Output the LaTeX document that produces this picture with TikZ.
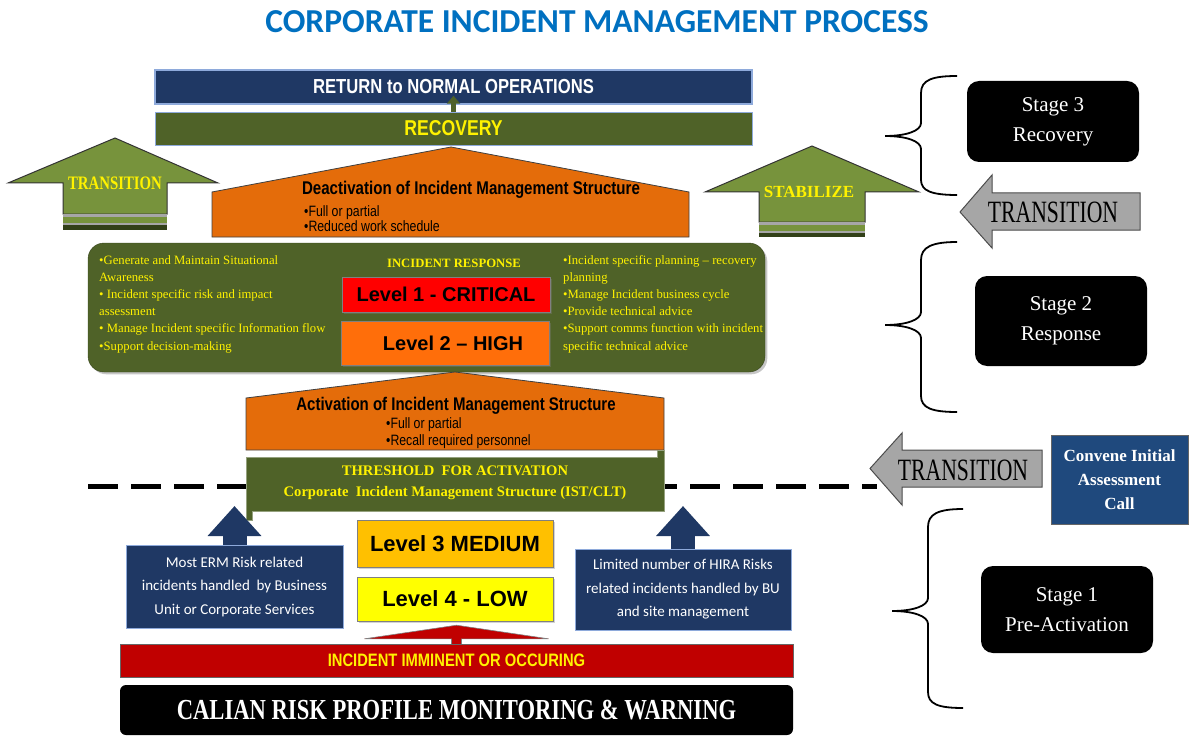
\documentclass[tikz,border=0pt]{standalone}
\usepackage{fontspec}
\setmainfont{Liberation Serif}
\newfontfamily\arialsans{Liberation Sans}
\newfontfamily\narrowsans[FakeStretch=0.82]{Liberation Sans}
\newfontfamily\condserif[FakeStretch=0.78]{Liberation Serif}
\newfontfamily\tallserif[FakeStretch=0.7]{Liberation Serif}
\newfontfamily\calibri{Carlito}
\usetikzlibrary{shapes,arrows.meta,positioning,shadows,calc}
\definecolor{titleblue}{RGB}{0,112,192}
\definecolor{navy}{RGB}{31,56,100}
\definecolor{navyedge}{RGB}{142,170,219}
\definecolor{olive}{RGB}{79,98,40}
\definecolor{arrowgreen}{RGB}{119,147,60}
\definecolor{olivedark}{RGB}{50,64,24}
\definecolor{roof}{RGB}{228,108,10}
\definecolor{critical}{RGB}{255,0,0}
\definecolor{high}{RGB}{255,110,10}
\definecolor{medium}{RGB}{255,192,0}
\definecolor{low}{RGB}{255,255,0}
\definecolor{alarm}{RGB}{192,0,0}
\definecolor{callblue}{RGB}{31,73,125}
\definecolor{greyarr}{RGB}{166,166,166}

\begin{document}
\begin{tikzpicture}[x=1pt, y=-1pt,
    navybox/.style={draw=navyedge, fill=navy, inner sep=0pt},
    levelbox/.style={draw=black!50, inner sep=0pt, drop shadow={opacity=0.35}},
    stagebox/.style={fill=black, rounded corners=12pt, minimum width=172pt, align=center, text=white, font=\fontsize{21}{30}\selectfont},
    roofstyle/.style={fill=roof, draw=black!75, line width=0.8pt},
    upgreen/.style={fill=arrowgreen, draw=black!80, line width=1pt},
    greyarrow/.style={fill=greyarr, draw=black!70, line width=1pt},
    bracestyle/.style={draw=black, line width=1.8pt},
    pointlist/.style={anchor=north west, align=left, inner sep=0pt}]
    % 事件管理流程图
    \useasboundingbox (0,0) rectangle (1193,738);
    \node[font=\calibri\bfseries\fontsize{33.5}{36}\selectfont, text=titleblue] (title) at (597,22) {CORPORATE INCIDENT MANAGEMENT PROCESS};

    \node[navybox, line width=1.5pt, minimum width=597pt, minimum height=34pt, text=white, font=\narrowsans\bfseries\fontsize{20.3}{22}\selectfont] (ret) at (453.5,87) {RETURN to NORMAL OPERATIONS};
    \node[draw=navyedge, fill=olive, minimum width=597pt, minimum height=33pt, inner sep=0pt, text=yellow, font=\narrowsans\bfseries\fontsize{21.5}{24}\selectfont] (rec) at (453.5,128.5) {RECOVERY};
    \draw[olive, line width=5pt, -{Triangle[width=13pt,length=8pt]}] (rec.north) -- ($(ret.south)+(0,-9)$);

    \filldraw[upgreen] (63,214) -- (63,183) -- (8,183) -- (115,138) -- (218,183) -- (167,183) -- (167,214) -- cycle;
    \fill[black!35] (63,214) rectangle (167,230);
    \fill[arrowgreen] (63,216.5) rectangle (167,222.5);
    \fill[olivedark] (63,224.5) rectangle (167,230);
    \node[text=yellow, font=\condserif\bfseries\fontsize{19}{21}\selectfont] (trleft) at (115,183) {TRANSITION};

    \filldraw[upgreen] (759,222) -- (759,192) -- (705,192) -- (812,146) -- (919,192) -- (865,192) -- (865,222) -- cycle;
    \fill[black!35] (759,222) rectangle (865,237);
    \fill[arrowgreen] (759,225) rectangle (865,230.5);
    \fill[olivedark] (759,233) rectangle (865,237);
    \node[text=yellow, font=\bfseries\fontsize{17}{19}\selectfont] (stab) at (809,192) {STABILIZE};

    \filldraw[roofstyle] (212,237) -- (212,192) -- (451,147) -- (689,192) -- (689,237) -- cycle;
    \node[font=\narrowsans\bfseries\fontsize{18.4}{20}\selectfont] (deact) at (471,190) {Deactivation of Incident Management Structure};
    \node[pointlist, font=\narrowsans\fontsize{15}{15}\selectfont] (deactpts) at (304,205) {•Full or partial\\•Reduced work schedule};

    \node[fill=olive, draw=olive!70!black, rounded corners=16pt, minimum width=677pt, minimum height=129pt, drop shadow={opacity=0.45}] (resp) at (426.5,307.5) {};
    \node[pointlist, text=yellow, font=\fontsize{12.7}{17.2}\selectfont] (leftpts) at (99,255) {•Generate and Maintain Situational\\Awareness\\• Incident specific risk and impact\\assessment\\• Manage Incident specific Information flow\\•Support decision-making};
    \node[text=yellow, font=\bfseries\fontsize{12.7}{14}\selectfont] (irtitle) at (454,263) {INCIDENT RESPONSE};
    \node[levelbox, fill=critical, minimum width=208pt, minimum height=35pt, font=\arialsans\bfseries\fontsize{20}{22}\selectfont] (crit) at (446,294.5) {Level 1 - CRITICAL};
    \node[levelbox, fill=high, minimum width=208pt, minimum height=44pt, font=\arialsans\bfseries\fontsize{20}{22}\selectfont] (high) at (445,343) {\hspace*{16pt}Level 2 – HIGH};
    \node[pointlist, text=yellow, font=\fontsize{12.7}{17.2}\selectfont] (rightpts) at (563,255) {•Incident specific planning – recovery\\planning\\•Manage Incident business cycle\\•Provide technical advice\\•Support comms function with incident\\specific technical advice};

    \filldraw[roofstyle] (246,450) -- (246,398) -- (455,372) -- (664,398) -- (664,450) -- cycle;
    \node[font=\narrowsans\bfseries\fontsize{18.3}{20}\selectfont] (act) at (456,406) {Activation of Incident Management Structure};
    \node[pointlist, font=\narrowsans\fontsize{15}{17}\selectfont] (actpts) at (386,417) {•Full or partial\\•Recall required personnel};

    \coordinate (dl) at (88,486);
    \coordinate (dr) at (877,486);
    \draw[line width=5pt, dash pattern=on 30pt off 13pt] (dl) -- (dr);

    \filldraw[fill=olive, draw=olive!60!white, line width=0.8pt] (246,457) -- (657,457) -- (657,450) -- (664,450) -- (664,511) -- (252,511) -- (252,520) -- (246,520) -- cycle;
    \node[text=yellow, align=center, font=\bfseries\fontsize{14.6}{21}\selectfont] (thr) at (455,483) {THRESHOLD\ \ FOR ACTIVATION\\Corporate\ \ Incident Management Structure (IST/CLT)};

    \node[navybox, minimum width=217pt, minimum height=83pt, align=center, text=white, font=\calibri\fontsize{15}{23.5}\selectfont] (erm) at (234.5,586.5) {Most ERM Risk related\\incidents handled\ \ by Business\\Unit or Corporate Services};
    \node[navybox, minimum width=216pt, minimum height=81pt, align=center, text=white, font=\calibri\fontsize{15}{23.5}\selectfont] (hira) at (683,589.5) {Limited number of HIRA Risks\\related incidents handled by BU\\and site management};
    \coordinate (ermtip) at (234.5,506);
    \coordinate (hiratip) at (683,506);
    \draw[navy, line width=24pt, -{Triangle[width=52pt,length=30pt]}] (erm.north) -- (ermtip);
    \draw[navy, line width=24pt, -{Triangle[width=52pt,length=30pt]}] (hira.north) -- (hiratip);

    \node[levelbox, fill=medium, minimum width=196pt, minimum height=47pt, font=\arialsans\bfseries\fontsize{22}{24}\selectfont] (med) at (455,543.5) {Level 3 MEDIUM};
    \node[levelbox, fill=low, minimum width=196pt, minimum height=44pt, font=\arialsans\bfseries\fontsize{22}{24}\selectfont] (low) at (455,599) {Level 4 - LOW};

    \node[fill=alarm, draw=black!60, minimum width=673pt, minimum height=33pt, inner sep=0pt, text=yellow, font=\narrowsans\bfseries\fontsize{18}{20}\selectfont] (inc) at (456.5,660.5) {INCIDENT IMMINENT OR OCCURING};
    \filldraw[fill=alarm, draw=black!50, line width=0.6pt] ($(inc.north)+(-5,0)$) -- ($(inc.north)+(-5,-5)$) -- ($(inc.north)+(-92,-5)$) -- ($(inc.north |- low.south)+(0,4)$) -- ($(inc.north)+(92,-5)$) -- ($(inc.north)+(5,-5)$) -- ($(inc.north)+(5,0)$);
    \node[fill=black, rounded corners=6pt, minimum width=673pt, minimum height=50pt, inner sep=0pt, text=white, font=\condserif\bfseries\fontsize{29}{31}\selectfont] (calian) at (456.5,710) {CALIAN RISK PROFILE MONITORING \& WARNING};

    \draw[bracestyle] (957,76) .. controls (932,76) and (921,80) .. (921,93) -- (921,123) .. controls (921,131) and (906,136) .. (885,136) .. controls (906,136) and (921,141) .. (921,149) -- (921,180) .. controls (921,191) and (932,195) .. (957,195);
    \draw[bracestyle] (957,242) .. controls (932,242) and (921,247) .. (921,260) -- (921,312) .. controls (921,320) and (906,325) .. (885,325) .. controls (906,325) and (921,330) .. (921,338) -- (921,396) .. controls (921,408) and (932,412) .. (957,412);
    \draw[bracestyle] (963,509) .. controls (938,509) and (928,514) .. (928,527) -- (928,598) .. controls (928,606) and (913,611) .. (892,611) .. controls (913,611) and (928,616) .. (928,624) -- (928,692) .. controls (928,704) and (938,708) .. (963,708);

    \node[stagebox, minimum height=81pt] (s3) at (1053,121.5) {Stage 3\\Recovery};
    \node[stagebox, minimum height=90pt] (s2) at (1061,321) {Stage 2\\Response};
    \node[stagebox, minimum height=87pt] (s1) at (1067,609.5) {Stage 1\\Pre-Activation};

    \filldraw[greyarrow] (1140,193) -- (992,193) -- (992,175) -- (960,212) -- (992,248) -- (992,230) -- (1140,230) -- cycle;
    \node[font=\tallserif\fontsize{31}{33}\selectfont] (tr3) at (1053,212) {TRANSITION};
    \filldraw[greyarrow] (1042,450) -- (902,450) -- (902,433) -- (870,468.5) -- (902,505) -- (902,487) -- (1042,487) -- cycle;
    \node[font=\tallserif\fontsize{31}{33}\selectfont] (tr1) at (963,470) {TRANSITION};

    \node[fill=callblue, draw=black!60, minimum width=137pt, minimum height=89pt, align=center, text=white, font=\bfseries\fontsize{17}{24}\selectfont] (conv) at (1119.5,479.5) {Convene Initial\\Assessment\\Call};
\end{tikzpicture}
\end{document}
